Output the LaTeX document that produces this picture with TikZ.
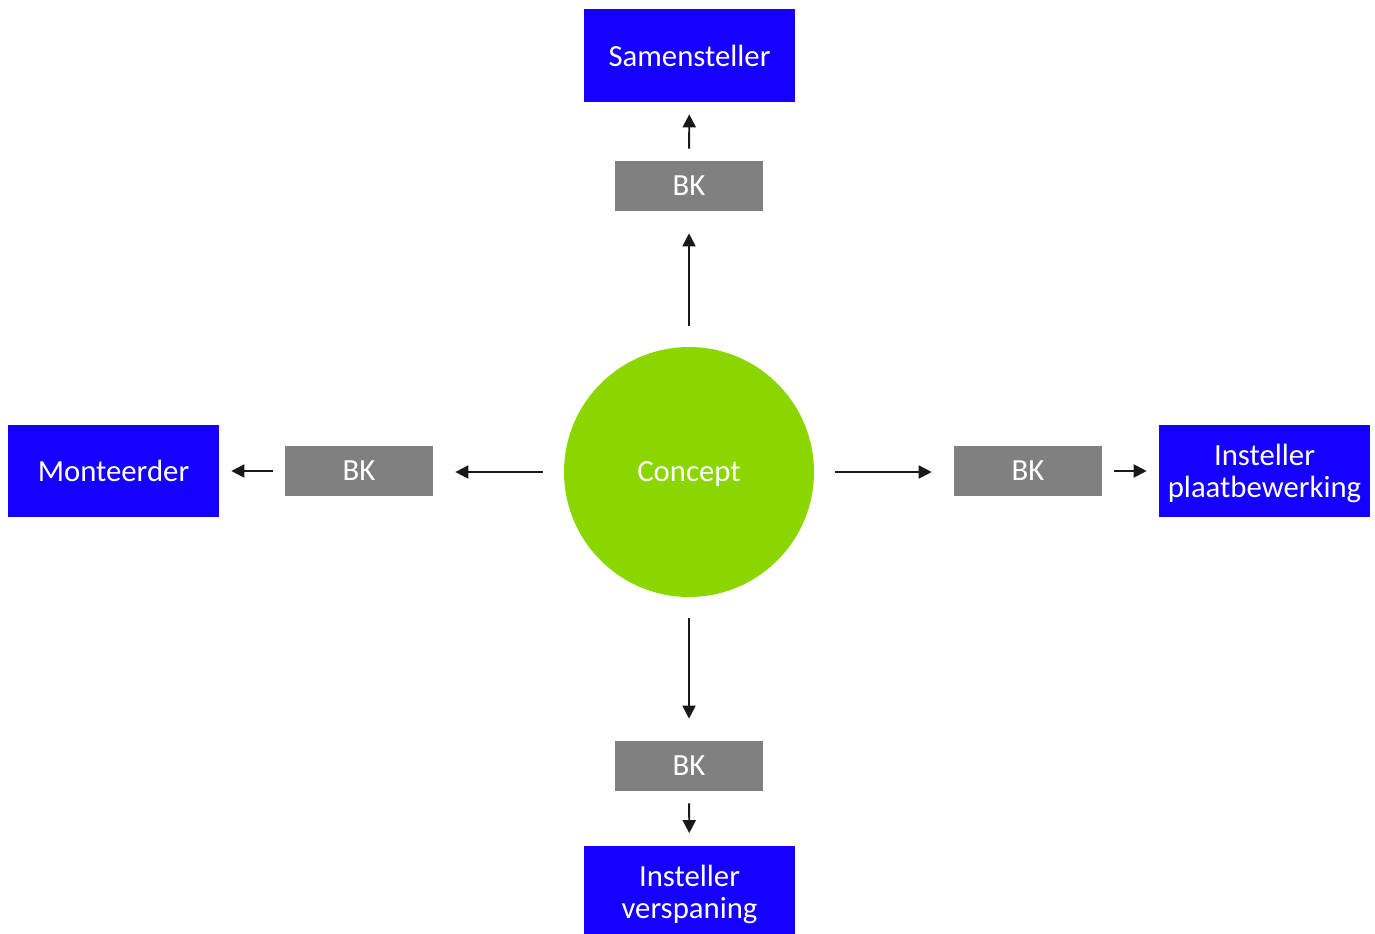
\documentclass[tikz,border=0pt]{standalone}
\usepackage{fontspec}
\setmainfont{Carlito}
\usepackage{tikz}
\usetikzlibrary{arrows.meta,positioning}
\definecolor{roleblue}{RGB}{21,0,255}
\definecolor{conceptgreen}{RGB}{140,214,0}
\definecolor{bkgray}{RGB}{128,128,128}
\tikzset{
  role/.style  ={rectangle, fill=roleblue, text=white, minimum width=4.22cm,
                 minimum height=1.86cm, align=center, inner sep=0pt, text depth=0pt,
                 font=\fontsize{17.5}{18.5}\selectfont},
  bk/.style    ={rectangle, fill=bkgray, text=white, minimum width=2.96cm,
                 minimum height=1cm, inner sep=0pt, text depth=0pt,
                 font=\fontsize{17.5}{18.5}\selectfont},
  hub/.style   ={circle, fill=conceptgreen, text=white, minimum size=5cm,
                 inner sep=0pt, text depth=0pt, font=\fontsize{17.5}{18.5}\selectfont},
  ar/.style    ={-{Triangle[length=2.6mm, width=2.6mm]}, line width=1.1pt, draw=black!90},
  far/.style   ={ar, shorten <=0.42cm, shorten >=0.44cm},
  near/.style  ={ar, shorten <=0.24cm, shorten >=0.24cm},
}

\begin{document}
\begin{tikzpicture}[x=0.02cm, y=-0.02cm]
\useasboundingbox (0,0) rectangle (1375,933);

\node[hub] (concept) at (689,472) {Concept};

\node[bk] (bkN) at (689,186) {BK};
\node[bk] (bkW) at (359,471) {BK};
\node[bk] (bkE) at (1028,471) {BK};
\node[bk] (bkS) at (689,766) {BK};

\node[role] (sam) at (689.5,55.5) {Samensteller};
\node[role] (mont) at (113.5,471) {Monteerder};
\node[role] (plaat) at (1264.5,471) {Insteller\\plaatbewerking};
\node[role] (versp) at (689.5,892) {Insteller\\verspaning};

\draw[far] (concept.west) -- (bkW.east |- concept.west);
\draw[far] (concept.east) -- (bkE.west |- concept.east);
\draw[far] (concept) -- (bkN);
\draw[far] (concept) -- (bkS);

\draw[near] (bkN) -- (sam);
\draw[near] (bkW) -- (mont);
\draw[near] (bkE) -- (plaat);
\draw[near] (bkS) -- (versp);

\end{tikzpicture}
\end{document}
